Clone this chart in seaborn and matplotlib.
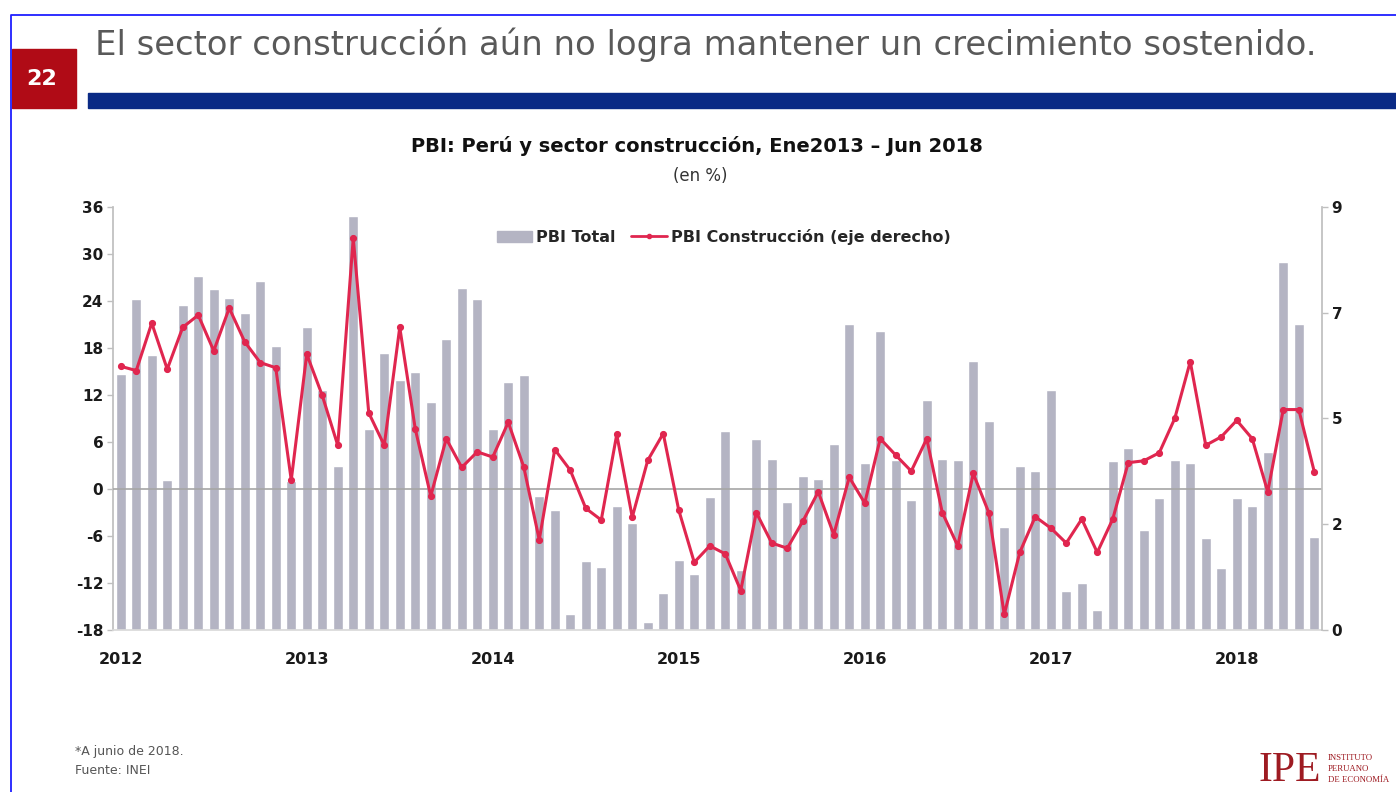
import numpy as np
import pandas as pd
import seaborn as sns
import matplotlib.pyplot as plt
from matplotlib.patches import Rectangle, Patch
from matplotlib.lines import Line2D

# meses Ene 2012 - Jun 2018
meses = pd.date_range("2012-01-01", periods=78, freq="MS").strftime("%Y-%m")
anios = ["2012", "2013", "2014", "2015", "2016", "2017", "2018"]

# barras (eje izquierdo)
pbi_total = [
    14.7, 24.3, 17.1, 1.2, 23.5, 27.2, 25.5, 24.4, 22.5, 26.5, 18.3, 1.0,
    20.7, 12.6, 3.0, 34.9, 7.6, 17.4, 13.9, 15.0, 11.1, 19.2, 25.6, 24.2,
    7.6, 13.6, 14.6, -0.9, -2.7, -16.0, -9.2, -10.0, -2.2, -4.3, -17.0, -13.3,
    -9.0, -10.8, -1.0, 7.4, -10.4, 6.4, 3.8, -1.6, 1.7, 1.3, 5.7, 21.1,
    3.3, 20.2, 3.7, -1.4, 11.4, 3.8, 3.7, 16.4, 8.7, -4.9, 3.0, 2.3,
    12.7, -13.0, -12.0, -15.4, 3.6, 5.2, -5.2, -1.1, 3.7, 3.3, -6.3, -10.1,
    -1.2, -2.2, 4.7, 29.0, 21.1, -6.1,
]
# linea (eje derecho)
pbi_construccion = [
    5.61, 5.52, 6.53, 5.55, 6.44, 6.70, 5.94, 6.85, 6.13, 5.69, 5.58, 3.19,
    5.87, 4.99, 3.93, 8.34, 4.62, 3.93, 6.44, 4.28, 2.85, 4.07, 3.46, 3.79,
    3.68, 4.42, 3.47, 1.92, 3.84, 3.40, 2.59, 2.34, 4.16, 2.40, 3.61, 4.18,
    2.55, 1.44, 1.79, 1.62, 0.84, 2.50, 1.85, 1.74, 2.31, 2.94, 2.03, 3.25,
    2.70, 4.07, 3.72, 3.38, 4.07, 2.50, 1.79, 3.33, 2.50, 0.33, 1.65, 2.41,
    2.17, 1.85, 2.36, 1.65, 2.36, 3.56, 3.60, 3.77, 4.50, 5.71, 3.93, 4.11,
    4.46, 4.07, 2.94, 4.69, 4.69, 3.37,
]

BASE = -18
BAR_COLOR = "#B4B4C3"
LINE_COLOR = "#E0264F"
W, H = 1396, 792

df = pd.DataFrame({"pos": np.arange(len(meses)), "mes": meses,
                   "total": pbi_total, "constr": pbi_construccion})

sns.set_theme(style="white")
plt.rcParams["font.family"] = ["DejaVu Sans"]
plt.rcParams["axes.unicode_minus"] = False

fig = plt.figure(figsize=(W / 100, H / 100), dpi=100)
ax = fig.add_axes([113 / W, 1 - 630 / H, (1322 - 113) / W, (630 - 207) / H])

sns.barplot(data=df, x="pos", y="total", color=BAR_COLOR, saturation=1,
            width=0.65, errorbar=None, ax=ax, zorder=2)
# las barras arrancan desde el piso del eje (-18)
for p, v in zip(ax.patches, pbi_total):
    p.set_y(BASE)
    p.set_height(v - BASE)
ax.axhline(0, color="#A6A6A6", lw=1.2, zorder=3)

ax2 = ax.twinx()
sns.pointplot(data=df, x="pos", y="constr", color=LINE_COLOR, errorbar=None,
              markers="o", markersize=3.5, linewidth=2.2, ax=ax2)

ax.set_xlim(-0.5, len(meses) - 0.5)
ax.set_ylim(BASE, 36)
ax.set_yticks(range(-18, 37, 6))
ax2.set_ylim(0, 9)
rticks = np.linspace(0, 9, 5)
ax2.set_yticks(rticks)
ax2.set_yticklabels([str(int(t + 0.5)) for t in rticks])

ax.set_xticks(np.arange(0, len(meses), 12))
ax.set_xticklabels(anios)
ax.set_xlabel("")
ax.set_ylabel("")
ax2.set_xlabel("")
ax2.set_ylabel("")

for a in (ax, ax2):
    a.grid(False)
    for s in a.spines.values():
        s.set_visible(False)
ax.spines["left"].set_visible(True)
ax.spines["left"].set_color("#BFBFBF")
ax.spines["bottom"].set_visible(True)
ax.spines["bottom"].set_color("#D9D9D9")
ax2.spines["right"].set_visible(True)
ax2.spines["right"].set_color("#BFBFBF")

ax.tick_params(axis="y", which="major", left=True, length=4, width=1,
               color="#BFBFBF", pad=3, labelsize=11)
ax.tick_params(axis="x", length=0, pad=16, labelsize=11.5)
ax2.tick_params(axis="y", right=True, length=4, width=1, color="#BFBFBF",
                pad=3, labelsize=11)
for lbl in ax.get_yticklabels() + ax.get_xticklabels() + ax2.get_yticklabels():
    lbl.set_fontweight("bold")
    lbl.set_color("#1A1A1A")

handles = [Patch(color=BAR_COLOR),
           Line2D([], [], color=LINE_COLOR, lw=2, marker="o", markersize=3)]
leg = ax2.legend(handles, ["PBI Total", "PBI Construcción (eje derecho)"],
                 loc="center", bbox_to_anchor=(0.505, 0.929), ncol=2,
                 frameon=False, handlelength=2.2, handletextpad=0.25,
                 columnspacing=1.0, prop={"weight": "bold", "size": 11.5})

# titulos del grafico
fig.text(697 / W, 1 - 146 / H, "PBI: Perú y sector construcción, Ene2013 – Jun 2018",
         ha="center", va="center", fontsize=14, fontweight="bold", color="#111111")
fig.text(700 / W, 1 - 176 / H, "(en %)", ha="center", va="center",
         fontsize=12, color="#333333")

# encabezado de la lamina
fig.add_artist(Line2D([11 / W, 11 / W, 1], [0, 1 - 15 / H, 1 - 15 / H],
                      transform=fig.transFigure, color="#1F1FFF", lw=1.3))
fig.add_artist(Rectangle((12 / W, 1 - 108 / H), 64 / W, 59 / H,
                         transform=fig.transFigure, color="#B00B16"))
fig.text(42 / W, 1 - 79 / H, "22", ha="center", va="center", fontsize=16,
         fontweight="bold", color="white")
fig.add_artist(Rectangle((88 / W, 1 - 108 / H), (W - 88) / W, 15 / H,
                         transform=fig.transFigure, color="#0A2A85"))
fig.text(95 / W, 1 - 45 / H,
         "El sector construcción aún no logra mantener un crecimiento sostenido.",
         ha="left", va="center", fontsize=24.4, color="#595959")

# notas
fig.text(75 / W, 1 - 752 / H, "*A junio de 2018.", ha="left", va="center",
         fontsize=9, color="#555555")
fig.text(75 / W, 1 - 771 / H, "Fuente: INEI", ha="left", va="center",
         fontsize=9, color="#555555")

# logo IPE
fig.text(1258 / W, 1 - 790 / H, "IPE", ha="left", va="bottom", fontsize=30,
         family="Liberation Serif", color="#9E1B22")
for k, t in enumerate(["INSTITUTO", "PERUANO", "DE ECONOMÍA"]):
    fig.text(1328 / W, 1 - (758 + 11 * k) / H, t, ha="left", va="center",
             fontsize=6.3, family="Liberation Serif", color="#9E1B22")

fig.savefig("out.png", dpi=100)
